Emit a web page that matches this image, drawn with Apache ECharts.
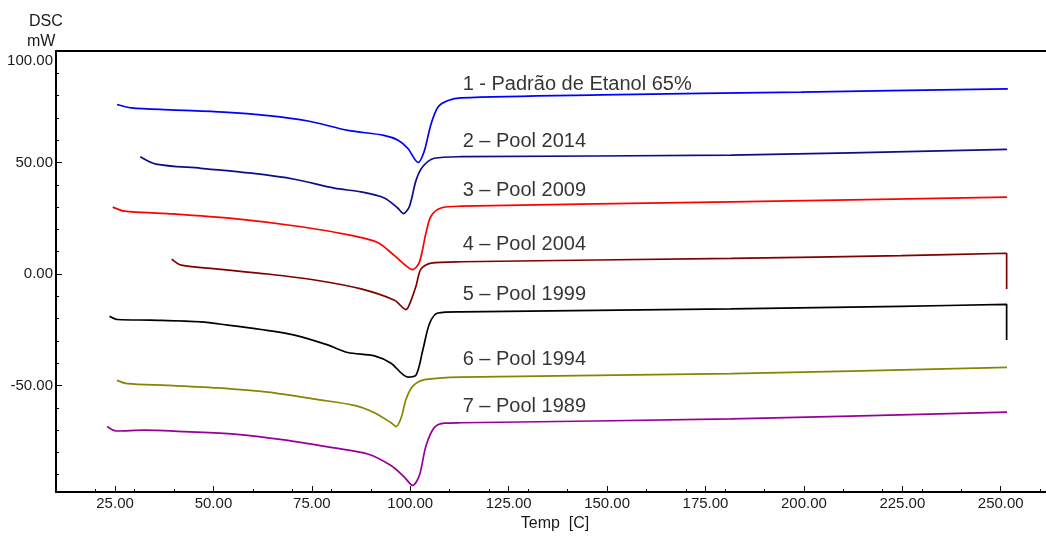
<!DOCTYPE html>
<html>
<head>
<meta charset="utf-8">
<script src="https://cdn.jsdelivr.net/npm/echarts@6/dist/echarts.min.js"></script>
<style>
  html, body { margin: 0; padding: 0; background: #fff; }
  #main { width: 1046px; height: 537px; }
</style>
</head>
<body>
<div id="main"></div>
<script>
// curve names and colours
var names = ['1 - Padrão de Etanol 65%', '2 – Pool 2014', '3 – Pool 2009', '4 – Pool 2004', '5 – Pool 1999', '6 – Pool 1994', '7 – Pool 1989'];
var colors = ['#0000ff', '#0d0d8a', '#ff0000', '#800000', '#000000', '#858500', '#960096'];

// [temp, mW]
var curve1 = [[25.5,76.0],[29.1,74.5],[39.2,73.6],[52.7,72.6],[63.9,71.0],[74.0,68.6],[84.2,64.4],[93.3,62.2],[96.9,60.0],[99.4,56.3],[102.0,50.0],[103.5,54.8],[105.3,67.4],[107.1,75.0],[109.6,77.8],[112.9,79.0],[148.5,80.3],[199.3,81.6],[251.8,83.0]];
var curve2 = [[31.4,52.6],[35.4,49.3],[46.8,47.4],[59.6,45.2],[70.6,42.5],[80.7,38.5],[87.5,36.8],[93.4,34.1],[96.8,29.6],[98.3,27.1],[99.8,30.4],[101.5,42.2],[103.2,48.2],[106.1,51.9],[112.9,52.6],[181.5,53.3],[251.6,55.9]];
var curve3 = [[24.4,30.0],[27.4,28.2],[38.4,27.1],[55.3,24.8],[72.3,21.2],[85.0,17.3],[91.7,14.1],[96.0,8.2],[98.9,3.7],[100.6,2.0],[102.3,5.2],[104.0,18.5],[105.3,26.0],[107.8,29.6],[112.9,30.4],[181.5,32.3],[251.6,34.5]];
var curve4 = [[39.4,6.7],[41.8,4.0],[51.1,2.2],[63.8,0.0],[76.5,-2.9],[87.5,-6.7],[96.0,-11.8],[98.9,-16.0],[100.2,-11.8],[101.5,-5.2],[102.7,2.2],[105.3,4.9],[112.9,5.5],[181.5,7.0],[224.7,8.2],[251.5,9.3],[251.5,-6.7]];
var curve5 = [[23.6,-18.9],[25.7,-20.4],[34.1,-20.7],[46.8,-21.5],[53.6,-22.9],[62.1,-24.9],[70.6,-27.4],[79.0,-31.8],[84.1,-35.2],[90.9,-36.7],[95.1,-40.0],[99.4,-46.2],[101.5,-45.2],[103.2,-34.0],[104.9,-22.2],[107.0,-17.5],[112.9,-17.0],[181.5,-15.6],[224.7,-14.5],[251.5,-13.6],[251.5,-29.6]];
var curve6 = [[25.5,-47.7],[28.2,-49.2],[38.4,-49.9],[51.1,-51.1],[63.8,-53.0],[76.5,-56.3],[85.8,-58.9],[90.9,-62.2],[95.1,-66.7],[96.4,-68.4],[97.7,-64.4],[98.9,-56.3],[100.6,-50.4],[103.6,-47.4],[112.9,-46.2],[181.5,-44.7],[251.6,-41.9]];
var curve7 = [[23.0,-68.4],[25.3,-70.4],[32.4,-70.0],[42.6,-70.7],[55.3,-71.8],[68.0,-74.4],[80.7,-78.0],[89.2,-80.7],[95.1,-85.9],[98.5,-91.1],[100.6,-94.8],[102.3,-90.4],[104.0,-77.0],[106.1,-68.9],[108.7,-66.9],[112.9,-66.7],[181.5,-65.0],[251.6,-61.9]];
var curves = [curve1, curve2, curve3, curve4, curve5, curve6, curve7];

// where each curve's name sits
var labelX = 113.3;
var labelY = [85.2, 59.3, 37.5, 13.3, -9.2, -38.5, -59.2];

// ticks
var xMajor = [25, 50, 75, 100, 125, 150, 175, 200, 225, 250];
var xMinor = [10, 20, 30, 40, 60, 70, 80, 90, 110, 120, 130, 140, 160, 170, 180, 190, 210, 220, 230, 240, 260];
var yMajor = [-50, 0, 50, 100];
var yMinor = [-90, -80, -70, -60, -40, -30, -20, -10, 10, 20, 30, 40, 60, 70, 80, 90];

var chart = echarts.init(document.getElementById('main'));
var fontFam = 'Liberation Sans, Arial, sans-serif';

var series = [];
for (var i = 0; i < curves.length; i++) {
    series.push({
        type: 'line',
        name: names[i],
        data: curves[i],
        symbol: 'none',
        smooth: 0.3,
        lineStyle: { color: colors[i], width: 1.7 },
        silent: true
    });
}
var labelData = [];
for (var i = 0; i < names.length; i++) {
    labelData.push({ value: [labelX, labelY[i]], name: names[i] });
}
series.push({
    type: 'scatter',
    data: labelData,
    symbolSize: 0,
    label: {
        show: true,
        position: 'right',
        distance: 0,
        formatter: function (p) { return p.name; },
        color: '#000',
        fontSize: 20,
        fontFamily: fontFam
    },
    silent: true
});

var xMin = 10, xMax = 261.5;
var option = {
    animation: false,
    grid: { left: 56, top: 51, right: 0, bottom: 40 },
    xAxis: [{
        type: 'value', min: xMin, max: xMax,
        axisLine: { onZero: false, lineStyle: { color: '#000', width: 2 } },
        axisTick: { inside: true, length: 6, customValues: xMajor, lineStyle: { color: '#000' } },
        axisLabel: { customValues: xMajor, formatter: function (v) { return v.toFixed(2); }, color: '#1a1a1a', fontSize: 15, fontFamily: fontFam, margin: 4 },
        splitLine: { show: false },
        name: 'Temp  [C]', nameLocation: 'middle', nameGap: 22,
        nameTextStyle: { color: '#1a1a1a', fontSize: 16, fontFamily: fontFam, padding: [0, 0, 0, 8] }
    }, {
        type: 'value', min: xMin, max: xMax, position: 'bottom',
        axisLine: { show: false, onZero: false },
        axisTick: { inside: true, length: 3, customValues: xMinor, lineStyle: { color: '#000' } },
        axisLabel: { show: false },
        splitLine: { show: false }
    }, {
        type: 'value', min: xMin, max: xMax, position: 'top',
        axisLine: { show: true, onZero: false, lineStyle: { color: '#000', width: 2 } },
        axisTick: { show: false },
        axisLabel: { show: false },
        splitLine: { show: false }
    }],
    yAxis: [{
        type: 'value', min: -97.8, max: 100,
        axisLine: { show: true, onZero: false, lineStyle: { color: '#000', width: 2 } },
        axisTick: { show: true, inside: true, length: 6, customValues: yMajor, lineStyle: { color: '#000' } },
        axisLabel: {
            customValues: yMajor, margin: 3, color: '#1a1a1a', fontSize: 15, fontFamily: fontFam,
            formatter: function (v) { return v === 100 ? '{t|' + v.toFixed(2) + '}' : v.toFixed(2); },
            rich: { t: { color: '#1a1a1a', fontSize: 15, fontFamily: fontFam, padding: [20, 0, 0, 0] } }
        },
        splitLine: { show: false }
    }, {
        type: 'value', min: -97.8, max: 100, position: 'left',
        axisLine: { show: false, onZero: false },
        axisTick: { show: true, inside: true, length: 3, customValues: yMinor, lineStyle: { color: '#000' } },
        axisLabel: { show: false },
        splitLine: { show: false }
    }],
    graphic: [
        { type: 'text', left: 29, top: 14, style: { text: 'DSC', fontSize: 16, fontFamily: fontFam, fill: '#1a1a1a' } },
        { type: 'text', left: 27, top: 34, style: { text: 'mW', fontSize: 16, fontFamily: fontFam, fill: '#1a1a1a' } }
    ],
    series: series
};
chart.setOption(option);
</script>
</body>
</html>
